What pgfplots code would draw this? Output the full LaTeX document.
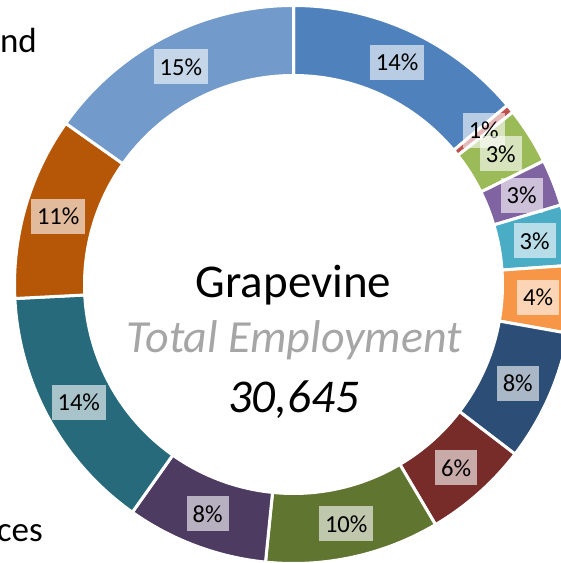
\documentclass[border=0pt]{standalone}
\usepackage{fontspec}
\setmainfont{Carlito}
\usepackage{pgfplots}
\usepackage{pgfplotstable}
\pgfplotsset{compat=1.18}

\definecolor{s1}{HTML}{4F81BD}
\definecolor{s2}{HTML}{C0504D}
\definecolor{s3}{HTML}{9BBB59}
\definecolor{s4}{HTML}{8064A2}
\definecolor{s5}{HTML}{4BACC6}
\definecolor{s6}{HTML}{F79646}
\definecolor{s7}{HTML}{2C4D75}
\definecolor{s8}{HTML}{772C2A}
\definecolor{s9}{HTML}{5F7530}
\definecolor{s10}{HTML}{4D3B62}
\definecolor{s11}{HTML}{276A7C}
\definecolor{s12}{HTML}{B65708}
\definecolor{s13}{HTML}{729ACA}

\pgfplotstableread{
val col lab
13.9 s1 14
0.5 s2 1
3.3 s3 3
2.7 s4 3
3.5 s5 3
3.9 s6 4
7.6 s7 8
6.1 s8 6
10.1 s9 10
8.2 s10 8
14.4 s11 14
10.6 s12 11
15.2 s13 15
}\donut

\tikzset{lbl/.style={fill=white, fill opacity=0.6, text opacity=1, inner xsep=6bp, inner ysep=0pt, minimum height=35bp, font=\fontsize{24.5bp}{26bp}\selectfont}}

\begin{document}
\begin{tikzpicture}
\begin{axis}[
  x=1bp, y=1bp,
  xmin=-293.5, xmax=267.5, ymin=-278.5, ymax=284.5,
  hide axis, clip=true,
]
\pgfmathsetmacro{\cum}{0}
\pgfplotsforeachungrouped \i in {0,...,12}{%
  \pgfplotstablegetelem{\i}{val}\of\donut \let\slv\pgfplotsretval
  \pgfplotstablegetelem{\i}{col}\of\donut \let\slc\pgfplotsretval
  \pgfmathsetmacro{\angA}{90-3.6*\cum}%
  \pgfmathsetmacro{\angB}{90-3.6*(\cum+\slv)}%
  \pgfmathsetmacro{\cum}{\cum+\slv}%
  \edef\cmd{\noexpand\filldraw[fill=\slc, draw=white, line width=3bp, line join=miter]
    (axis cs:{279*cos(\angA)},{279*sin(\angA)}) arc[start angle=\angA, end angle=\angB, radius=279bp]
    -- (axis cs:{209*cos(\angB)},{209*sin(\angB)}) arc[start angle=\angB, end angle=\angA, radius=209bp] -- cycle;}%
  \cmd
}
\pgfmathsetmacro{\cum}{0}
\pgfplotsforeachungrouped \i in {0,...,12}{%
  \pgfplotstablegetelem{\i}{val}\of\donut \let\slv\pgfplotsretval
  \pgfplotstablegetelem{\i}{lab}\of\donut \let\sll\pgfplotsretval
  \pgfmathsetmacro{\angM}{90-3.6*(\cum+\slv/2)}%
  \pgfmathsetmacro{\cum}{\cum+\slv}%
  \edef\cmd{\noexpand\node[lbl] at (axis cs:{245*cos(\angM)},{245*sin(\angM)}) {\sll\%};}%
  \cmd
}
\node[anchor=base, inner sep=0pt, font=\fontsize{47bp}{50bp}\selectfont] at (axis cs:0,-13.5) {Grapevine};
\node[anchor=base, inner sep=0pt, text=black!35, font=\fontsize{46bp}{50bp}\selectfont\itshape] at (axis cs:1,-68.5) {Total Employment};
\node[anchor=base, inner sep=0pt, font=\fontsize{47bp}{50bp}\selectfont\itshape] at (axis cs:0,-128.5) {30,645};
\node[anchor=base east, inner sep=0pt, font=\fontsize{35bp}{40bp}\selectfont] at (axis cs:-256.5,231.5) {nd};
\node[anchor=base east, inner sep=0pt, font=\fontsize{35bp}{40bp}\selectfont] at (axis cs:-250.5,-257.5) {ces};
\end{axis}
\pgfresetboundingbox
\useasboundingbox (current axis.south west) rectangle (current axis.north east);
\end{tikzpicture}
\end{document}
